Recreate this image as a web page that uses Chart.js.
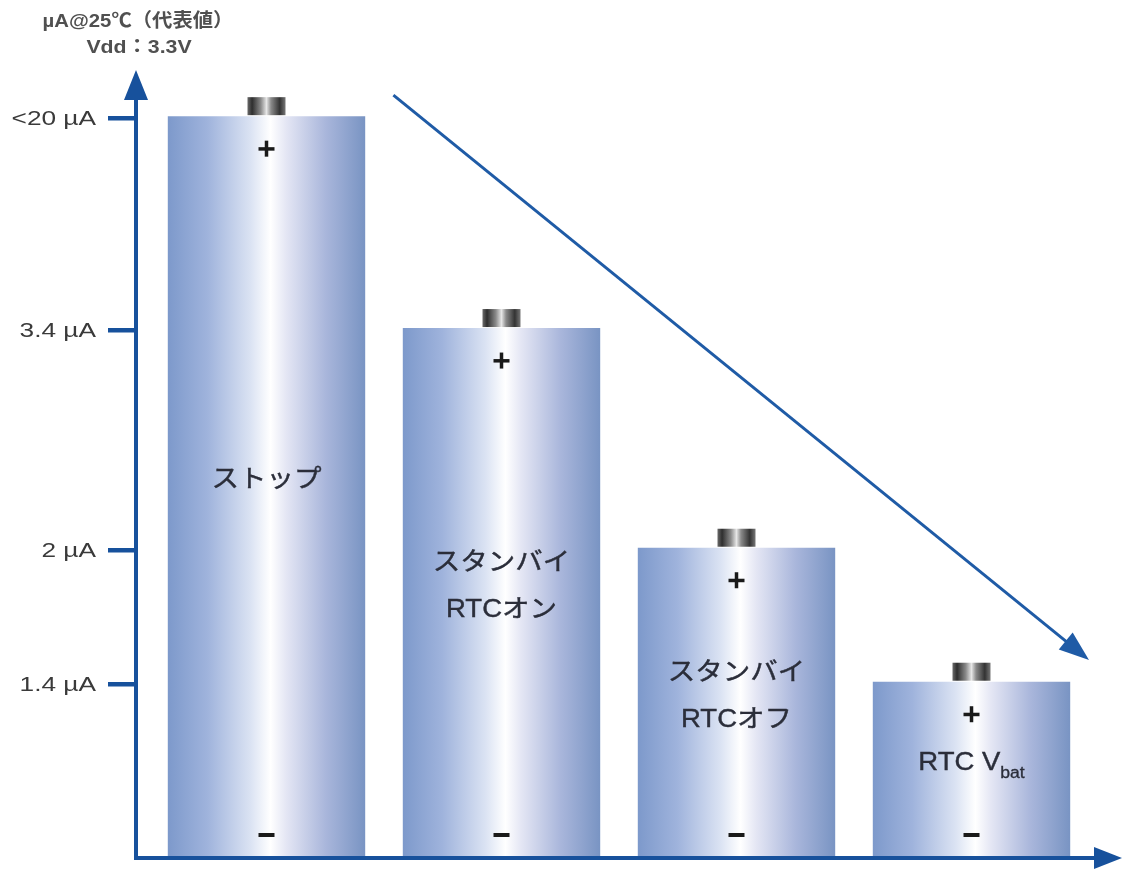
<!DOCTYPE html>
<html>
<head>
<meta charset="utf-8">
<script src="https://cdn.jsdelivr.net/npm/chart.js@4/dist/chart.umd.min.js"></script>
<style>
  html, body { margin: 0; padding: 0; background: #fff; }
  #wrap { width: 1134px; height: 871px; }
</style>
</head>
<body>
<div id="wrap"><canvas id="myChart" width="1134" height="871"></canvas></div>
<script>
// modes (one battery each)
const categories = ['ストップ', 'スタンバイ RTCオン', 'スタンバイ RTCオフ', 'RTC Vbat'];
const labelLines = [['ストップ'], ['スタンバイ', 'RTCオン'], ['スタンバイ', 'RTCオフ'], ['RTC V']];
const labelSubs = ['', '', '', 'bat'];
// typical current, uA @25C
const currents = [20, 3.4, 2, 1.4];
// the axis is schematic (not to scale): drawn level of each battery (0-100)
const levels = [95.1, 67.9, 39.7, 22.5];
const tickLabels = ['<20 µA', '3.4 µA', '2 µA', '1.4 µA'];
const titleLines = ['µA@25℃（代表値）', 'Vdd：3.3V'];

const axisBlue = '#17519c';
const textCol = '#2b2e3a';
const latinFont = '"Liberation Sans", "Noto Sans CJK JP", sans-serif';

function batteryFill(ctx) {
  const chart = ctx.chart;
  if (!chart.chartArea || !chart.scales.x) return '#9fb3da';
  const xs = chart.scales.x;
  const cx = xs.getPixelForValue(ctx.dataIndex);
  const w = xs.width / categories.length * 0.84;
  const g = chart.ctx.createLinearGradient(cx - w / 2, 0, cx + w / 2, 0);
  g.addColorStop(0, '#7d99cb');
  g.addColorStop(0.2, '#9fb3dc');
  g.addColorStop(0.42, '#dbe3f3');
  g.addColorStop(0.52, '#ffffff');
  g.addColorStop(0.6, '#e4e6f4');
  g.addColorStop(0.8, '#a9b6db');
  g.addColorStop(1, '#7994c3');
  return g;
}

// text drawn a little wider than the font, like the original lettering
function wideText(c, txt, x, y, sx, align, stroke) {
  c.save();
  c.translate(x, y);
  c.scale(sx, 1);
  c.textAlign = align;
  c.fillText(txt, 0, 0);
  if (stroke) {
    c.lineWidth = stroke;
    c.strokeStyle = c.fillStyle;
    c.strokeText(txt, 0, 0);
  }
  c.restore();
}

// axes, ticks, battery details and labels
const decorations = {
  id: 'decorations',
  afterDatasetsDraw(chart) {
    const c = chart.ctx;
    const xs = chart.scales.x, ys = chart.scales.y;
    const area = chart.chartArea;
    const meta = chart.getDatasetMeta(0);
    const axX = area.left - 13;
    const axY = area.bottom + 1;

    c.save();
    meta.data.forEach((bar, i) => {
      const top = bar.y;
      // terminal cap
      const cw = 38, ch = 18;
      const g = c.createLinearGradient(bar.x - cw / 2, 0, bar.x + cw / 2, 0);
      g.addColorStop(0, '#6a6a6a');
      g.addColorStop(0.12, '#2e2e2e');
      g.addColorStop(0.35, '#8a8a8a');
      g.addColorStop(0.5, '#e6e6e6');
      g.addColorStop(0.62, '#8a8a8a');
      g.addColorStop(0.85, '#333333');
      g.addColorStop(1, '#777777');
      c.fillStyle = g;
      c.fillRect(bar.x - cw / 2, top - ch - 1, cw, ch);

      // + and -
      c.fillStyle = '#1a1a1a';
      c.fillRect(bar.x - 8, top + 31, 16, 3.5);
      c.fillRect(bar.x - 1.75, top + 24.5, 3.5, 16);
      c.fillRect(bar.x - 8, area.bottom - 24, 16, 4);

      // label
      const lines = labelLines[i];
      const lh = 47;
      const mid = (top + bar.base) / 2 - 6 - (lines.length - 1) * lh / 2;
      const sx = 1.1;
      c.fillStyle = textCol;
      c.textBaseline = 'middle';
      lines.forEach((ln, k) => {
        const y = mid + k * lh;
        c.font = '25px ' + latinFont;
        if (labelSubs[i]) {
          const w1 = c.measureText(ln).width * sx;
          c.font = '16px ' + latinFont;
          const w2 = c.measureText(labelSubs[i]).width * sx;
          const x0 = bar.x - (w1 + w2) / 2;
          c.font = '25px ' + latinFont;
          wideText(c, ln, x0, y, sx, 'left', 0.4);
          c.font = '16px ' + latinFont;
          wideText(c, labelSubs[i], x0 + w1, y + 10, sx, 'left', 0.3);
        } else {
          wideText(c, ln, bar.x, y, sx, 'center', 0.4);
        }
      });
    });

    // y axis with arrow
    c.strokeStyle = axisBlue;
    c.fillStyle = axisBlue;
    c.lineWidth = 4;
    c.beginPath();
    c.moveTo(axX, axY + 2);
    c.lineTo(axX, area.top + 20);
    c.stroke();
    c.beginPath();
    c.moveTo(axX, area.top - 8);
    c.lineTo(axX - 12, area.top + 22);
    c.lineTo(axX + 12, area.top + 22);
    c.closePath();
    c.fill();

    // x axis with arrow
    const xEnd = area.right + 33;
    c.beginPath();
    c.moveTo(axX - 2, axY);
    c.lineTo(xEnd - 20, axY);
    c.stroke();
    c.beginPath();
    c.moveTo(xEnd, axY);
    c.lineTo(xEnd - 28, axY - 11);
    c.lineTo(xEnd - 28, axY + 11);
    c.closePath();
    c.fill();

    // ticks and tick labels
    c.font = '21px ' + latinFont;
    c.textBaseline = 'middle';
    levels.forEach((lv, i) => {
      const y = Math.round(ys.getPixelForValue(lv)) + 2;
      c.fillStyle = axisBlue;
      c.fillRect(axX - 28, y - 2, 28, 4.5);
      c.fillStyle = '#3a3a3a';
      wideText(c, tickLabels[i], axX - 40, y + 1, 1.25, 'right', 0);
    });

    // unit caption above the axis
    c.font = 'bold 19px ' + latinFont;
    c.fillStyle = '#505050';
    c.textBaseline = 'middle';
    wideText(c, titleLines[0], axX + 2, 22, 1.07, 'center', 0);
    wideText(c, titleLines[1], axX + 3, 48, 1.12, 'center', 0);

    // decreasing trend arrow
    const x1 = xs.getPixelForValue(0.54), y1 = ys.getPixelForValue(97.8);
    const x2 = xs.getPixelForValue(3.5), y2 = ys.getPixelForValue(25.3);
    const ang = Math.atan2(y2 - y1, x2 - x1);
    c.strokeStyle = '#1f5ba6';
    c.fillStyle = '#1f5ba6';
    c.lineWidth = 3;
    c.beginPath();
    c.moveTo(x1, y1);
    c.lineTo(x2 - 20 * Math.cos(ang), y2 - 20 * Math.sin(ang));
    c.stroke();
    c.beginPath();
    c.moveTo(x2, y2);
    c.lineTo(x2 - 30 * Math.cos(ang) + 11 * Math.sin(ang), y2 - 30 * Math.sin(ang) - 11 * Math.cos(ang));
    c.lineTo(x2 - 30 * Math.cos(ang) - 11 * Math.sin(ang), y2 - 30 * Math.sin(ang) + 11 * Math.cos(ang));
    c.closePath();
    c.fill();
    c.restore();
  }
};

const ctx = document.getElementById('myChart').getContext('2d');
const myChart = new Chart(ctx, {
  type: 'bar',
  data: {
    labels: categories,
    datasets: [
      {
        label: 'µA@25℃',
        data: levels,
        currents: currents,
        backgroundColor: batteryFill,
        borderWidth: 0,
        barPercentage: 0.84,
        categoryPercentage: 1.0,
      },
    ],
  },
  options: {
    responsive: false,
    animation: false,
    layout: { padding: { left: 149, right: 45, top: 78, bottom: 14 } },
    plugins: {
      legend: { display: false },
      tooltip: { enabled: false },
    },
    scales: {
      x: { display: false },
      y: { display: false, min: 0, max: 100 },
    },
  },
  plugins: [decorations],
});
</script>
</body>
</html>
